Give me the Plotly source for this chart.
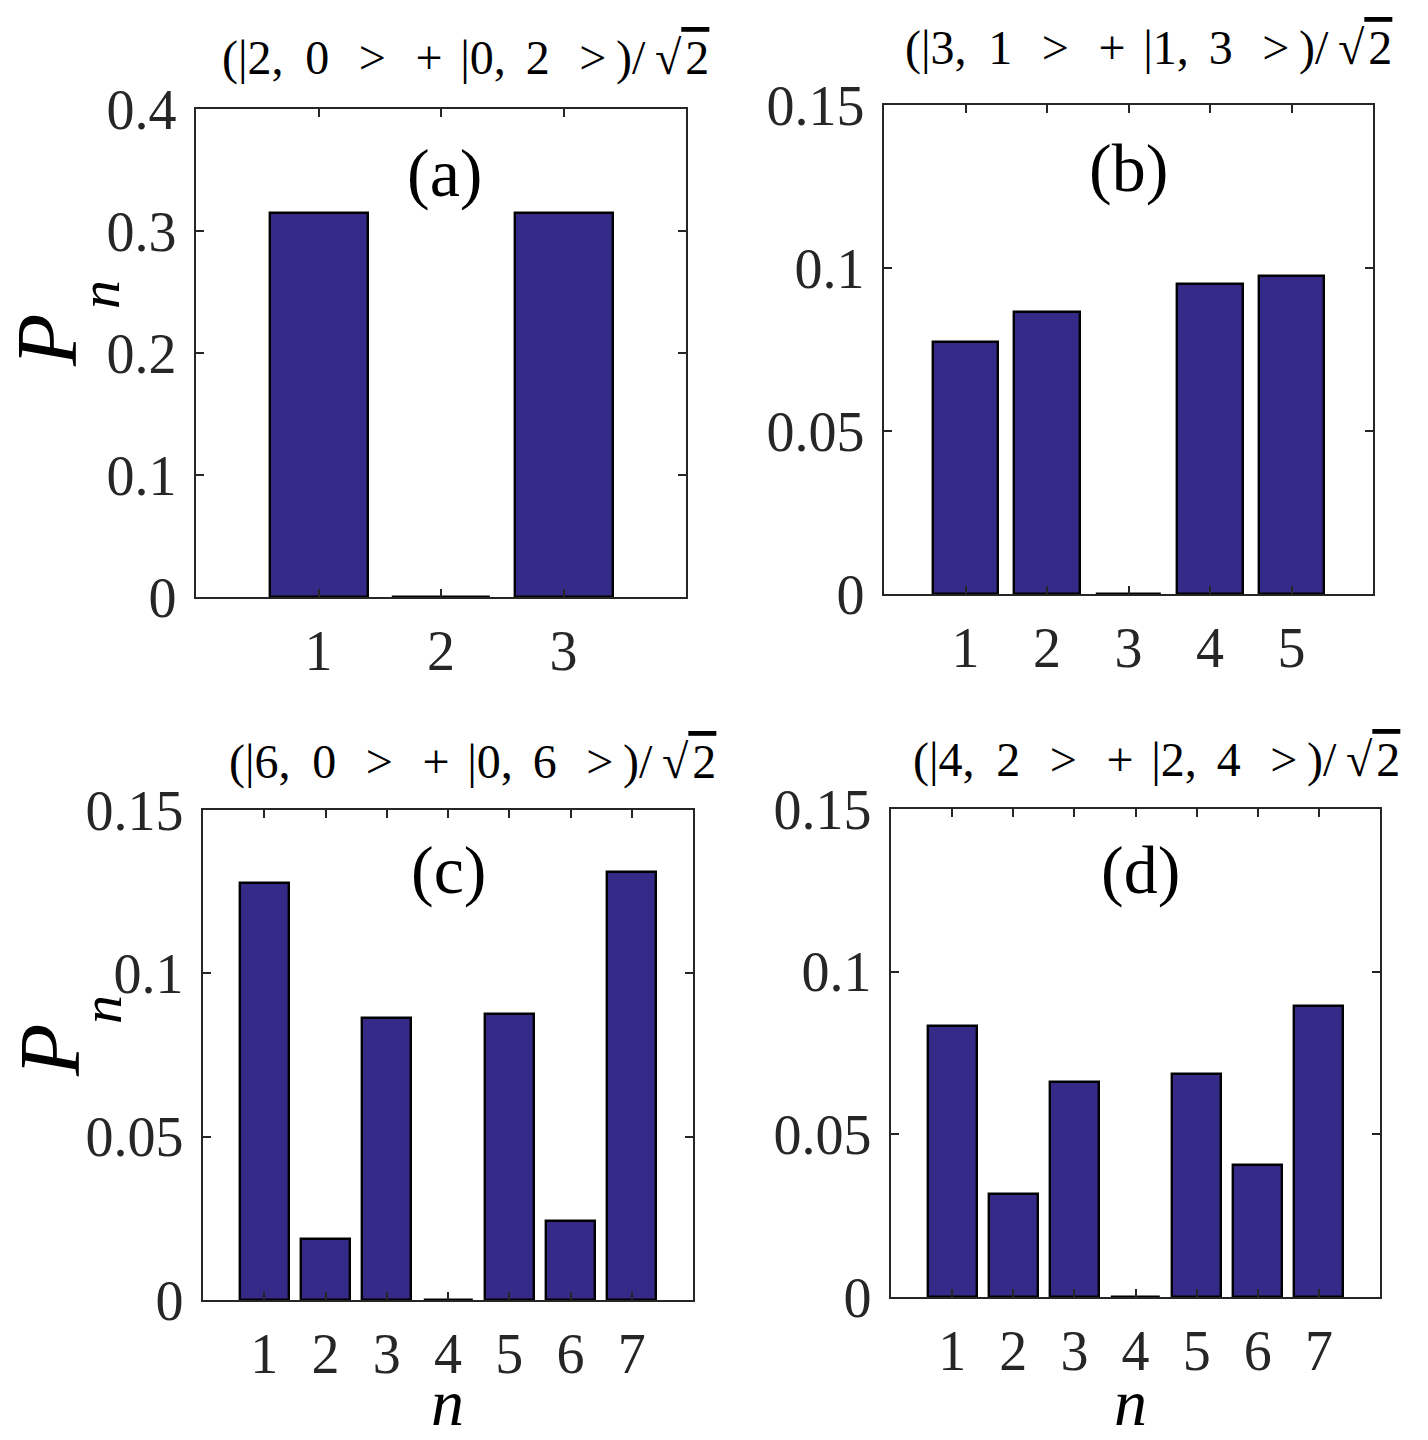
import plotly.graph_objects as go

# ---- data ----
n_a = [1, 2, 3]
p_a = [0.315, 0.0, 0.315]
n_b = [1, 2, 3, 4, 5]
p_b = [0.0774, 0.0865, 0.0, 0.0951, 0.0976]
n_c = [1, 2, 3, 4, 5, 6, 7]
p_c = [0.1277, 0.0186, 0.0862, 0.0, 0.0875, 0.0241, 0.1311]
n_d = [1, 2, 3, 4, 5, 6, 7]
p_d = [0.0834, 0.0316, 0.0660, 0.0, 0.0687, 0.0405, 0.0896]

kets = [("2", "0"), ("3", "1"), ("6", "0"), ("4", "2")]
labels = ["(a)", "(b)", "(c)", "(d)"]
yticks_a = [0, 0.1, 0.2, 0.3, 0.4]
yticktext_a = ["0", "0.1", "0.2", "0.3", "0.4"]
yticks_b = [0, 0.05, 0.1, 0.15]
yticktext_b = ["0", "0.05", "0.1", "0.15"]

W, H = 1428, 1440
BAR = "#352A87"
AX = "#262626"
FONT = "Liberation Serif"

SP = "\u00a0"
TH = "\u2009"
SIX = "\u2006"


def ket_title(a, b):
    return ("(|" + a + "," + SP + TH + b + SP + TH + SIX + ">" + SP + TH + SIX + "+" + TH + SIX
            + "|" + b + "," + SP + SIX + a + SP + TH + SIX + ">" + TH + ")/" + TH + "√"
            + "<span style='text-decoration:overline'>" + "\u200a2" + "</span>")


titles = [ket_title(a, b) for a, b in kets]

# pixel boxes (left, right, top, bottom)
boxes = [(196, 686, 109, 597), (884, 1373, 105, 594),
         (203, 693, 810, 1300), (891, 1380, 809, 1297)]
title_cx = [465, 1148, 472, 1156]
title_cy = [58, 48, 762, 760]
label_c = [(444, 173), (1128, 168), (448, 870), (1140, 870)]

panels = [(n_a, p_a, yticks_a, yticktext_a, 0.4),
          (n_b, p_b, yticks_b, yticktext_b, 0.15),
          (n_c, p_c, yticks_b, yticktext_b, 0.15),
          (n_d, p_d, yticks_b, yticktext_b, 0.15)]

fig = go.Figure()
annotations = []
for i, ((xs, ys, tv, tt, ymax), (l, r, t, b)) in enumerate(zip(panels, boxes)):
    k = "" if i == 0 else str(i + 1)
    fig.add_trace(go.Bar(x=xs, y=ys, width=0.8, xaxis="x" + k, yaxis="y" + k,
                         marker=dict(color=BAR, line=dict(color="black", width=2.4)),
                         showlegend=False))
    common = dict(showline=True, linecolor=AX, linewidth=2.4, mirror="ticks",
                  ticks="inside", ticklen=8, tickwidth=2, tickcolor=AX,
                  showgrid=False, zeroline=False, automargin=False,
                  tickfont=dict(family=FONT, size=56, color=AX))
    fig.update_layout(**{
        "xaxis" + k: dict(domain=[l / W, r / W], range=[0, len(xs) + 1],
                          tickvals=xs, ticktext=[str(v) for v in xs],
                          anchor="y" + k, ticklabelstandoff=4, **common),
        "yaxis" + k: dict(domain=[1 - b / H, 1 - t / H], range=[0, ymax],
                          tickvals=tv, ticktext=tt, anchor="x" + k,
                          ticklabelstandoff=6, **common),
    })
    annotations.append(dict(text=titles[i], x=title_cx[i] / W, y=1 - title_cy[i] / H,
                            xref="paper", yref="paper", showarrow=False,
                            font=dict(family=FONT, size=48, color="black"),
                            xanchor="center", yanchor="middle"))
    annotations.append(dict(text=labels[i], x=label_c[i][0] / W, y=1 - label_c[i][1] / H,
                            xref="paper", yref="paper", showarrow=False,
                            font=dict(family=FONT, size=68, color="black"),
                            xanchor="center", yanchor="middle"))

# y-axis labels P_n  (P centre, n centre) in pixels
ylab_pos = [((47, 340), (99, 295)), ((50, 1050), (102, 1010))]
for (px, py), (nx, ny) in ylab_pos:
    annotations.append(dict(text="<i>P</i>", x=px / W, y=1 - py / H, xref="paper",
                            yref="paper", showarrow=False, textangle=-90,
                            font=dict(family=FONT, size=86, color="black"),
                            xanchor="center", yanchor="middle"))
    annotations.append(dict(text="<i>n</i>", x=nx / W, y=1 - ny / H, xref="paper",
                            yref="paper", showarrow=False, textangle=-90,
                            font=dict(family=FONT, size=58, color="black"),
                            xanchor="center", yanchor="middle"))
# x-axis labels n
for xc in [447, 1130]:
    annotations.append(dict(text="<i>n</i>", x=xc / W, y=1 - 1402 / H, xref="paper",
                            yref="paper", showarrow=False,
                            font=dict(family=FONT, size=66, color="black"),
                            xanchor="center", yanchor="middle"))

fig.update_layout(width=W, height=H,
                  margin=dict(l=0, r=0, t=0, b=0, pad=0, autoexpand=False),
                  paper_bgcolor="white", plot_bgcolor="white",
                  annotations=annotations, bargap=0)
fig.write_html("out.html")
